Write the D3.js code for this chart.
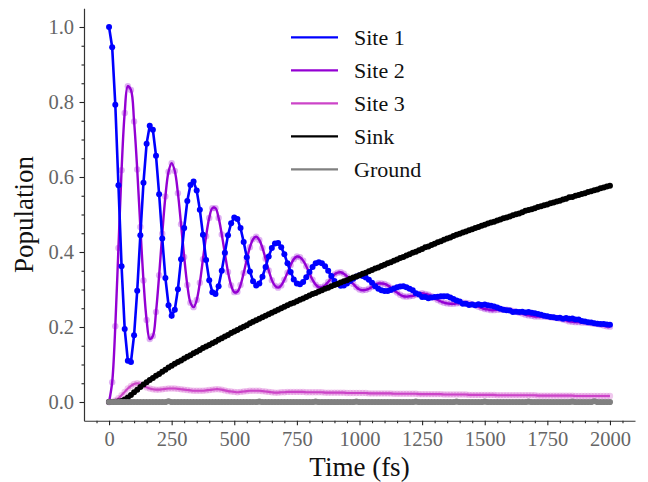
<!DOCTYPE html>
<html><head><meta charset="utf-8">
<script src="https://cdn.jsdelivr.net/npm/d3@7/dist/d3.min.js"></script>
<style>body{margin:0;background:#fff} svg{display:block}</style>
</head><body><svg id="chart" width="648" height="482"></svg>
<script>
const times = [
0,12.5,25,37.5,50,62.5,75,87.5,
100,112.5,125,137.5,150,162.5,175,187.5,
200,212.5,225,237.5,250,262.5,275,287.5,
300,312.5,325,337.5,350,362.5,375,387.5,
400,412.5,425,437.5,450,462.5,475,487.5,
500,512.5,525,537.5,550,562.5,575,587.5,
600,612.5,625,637.5,650,662.5,675,687.5,
700,712.5,725,737.5,750,762.5,775,787.5,
800,812.5,825,837.5,850,862.5,875,887.5,
900,912.5,925,937.5,950,962.5,975,987.5,
1000,1012.5,1025,1037.5,1050,1062.5,1075,1087.5,
1100,1112.5,1125,1137.5,1150,1162.5,1175,1187.5,
1200,1212.5,1225,1237.5,1250,1262.5,1275,1287.5,
1300,1312.5,1325,1337.5,1350,1362.5,1375,1387.5,
1400,1412.5,1425,1437.5,1450,1462.5,1475,1487.5,
1500,1512.5,1525,1537.5,1550,1562.5,1575,1587.5,
1600,1612.5,1625,1637.5,1650,1662.5,1675,1687.5,
1700,1712.5,1725,1737.5,1750,1762.5,1775,1787.5,
1800,1812.5,1825,1837.5,1850,1862.5,1875,1887.5,
1900,1912.5,1925,1937.5,1950,1962.5,1975,1987.5,
2000];

const site1 = [
1.000,.946,.793,.578,.362,.195,.110,.107,
.178,.297,.445,.585,.689,.737,.726,.657,
.554,.436,.331,.258,.230,.246,.301,.381,
.464,.536,.579,.588,.564,.513,.446,.379,
.325,.293,.288,.309,.350,.398,.445,.477,
.492,.488,.464,.427,.386,.348,.322,.311,
.316,.334,.360,.388,.411,.423,.424,.413,
.394,.370,.347,.327,.316,.314,.320,.333,
.347,.360,.370,.373,.370,.362,.350,.336,
.323,.315,.310,.311,.316,.323,.329,.335,
.338,.336,.332,.326,.318,.309,.302,.298,
.296,.296,.299,.303,.306,.308,.309,.306,
.302,.298,.290,.287,.280,.280,.277,.279,
.280,.281,.282,.282,.282,.279,.275,.271,
.268,.262,.262,.259,.260,.258,.261,.259,
.260,.258,.257,.255,.252,.249,.246,.245,
.244,.240,.241,.240,.241,.239,.240,.238,
.237,.235,.233,.230,.229,.227,.226,.224,
.225,.222,.224,.222,.223,.220,.220,.216,
.215,.213,.212,.210,.209,.208,.208,.207,
.206];

const site2 = [
.000,.053,.202,.411,.618,.771,.842,.832,
.748,.620,.467,.324,.219,.168,.176,.240,
.338,.449,.548,.614,.637,.616,.557,.474,
.387,.312,.265,.253,.272,.318,.381,.442,
.491,.517,.517,.491,.447,.396,.347,.311,
.293,.294,.312,.344,.380,.413,.434,.441,
.432,.411,.382,.351,.325,.310,.305,.311,
.326,.345,.365,.381,.388,.386,.377,.362,
.343,.326,.313,.306,.306,.311,.320,.330,
.340,.345,.346,.342,.335,.325,.315,.306,
.300,.298,.299,.302,.307,.312,.316,.316,
.315,.311,.305,.298,.292,.286,.282,.281,
.282,.283,.286,.288,.290,.288,.286,.282,
.277,.272,.268,.265,.263,.262,.262,.263,
.264,.265,.264,.263,.261,.258,.254,.251,
.248,.247,.245,.245,.246,.246,.246,.246,
.245,.243,.241,.238,.236,.233,.231,.230,
.228,.228,.228,.228,.227,.226,.225,.224,
.222,.220,.218,.215,.214,.213,.213,.212,
.212,.211,.210,.209,.208,.206,.204,.202,
.201];

const site3 = [
0,.001,.004,.010,.018,.027,.036,.043,
.048,.050,.048,.044,.039,.036,.034,.033,
.033,.034,.035,.036,.036,.036,.035,.034,
.033,.032,.031,.030,.030,.030,.030,.031,
.032,.033,.034,.034,.033,.031,.029,.028,
.027,.026,.027,.028,.029,.030,.030,.030,
.030,.029,.028,.027,.026,.025,.025,.026,
.026,.027,.027,.027,.027,.027,.027,.026,
.026,.026,.026,.026,.026,.025,.025,.025,
.025,.025,.025,.025,.024,.024,.024,.024,
.024,.024,.024,.023,.023,.023,.023,.023,
.023,.023,.023,.022,.022,.022,.022,.022,
.022,.022,.022,.021,.021,.021,.021,.021,
.021,.021,.021,.020,.020,.020,.020,.020,
.020,.020,.020,.019,.019,.019,.019,.019,
.019,.019,.019,.019,.018,.018,.018,.018,
.018,.018,.018,.018,.018,.018,.018,.018,
.018,.017,.017,.017,.017,.017,.017,.017,
.017,.017,.017,.017,.017,.016,.016,.016,
.016,.016,.016,.016,.016,.016,.016,.016,
.016];

const sink = [
0,0,.0005,.0015,.003,.007,.012,.019,
.026,.033,.040,.047,.053,.059,.064,.070,
.075,.081,.086,.092,.097,.102,.107,.111,
.116,.121,.125,.130,.134,.139,.144,.148,
.152,.157,.161,.166,.170,.175,.179,.184,
.188,.192,.197,.201,.205,.210,.214,.218,
.222,.226,.230,.234,.238,.242,.246,.250,
.254,.258,.262,.265,.269,.273,.276,.280,
.284,.288,.291,.295,.298,.302,.305,.309,
.312,.315,.319,.322,.325,.329,.332,.335,
.338,.342,.345,.349,.352,.356,.359,.363,
.366,.370,.373,.377,.380,.384,.387,.391,
.394,.398,.401,.405,.408,.413,.415,.419,
.422,.426,.429,.433,.436,.439,.443,.446,
.449,.452,.455,.458,.461,.464,.467,.470,
.473,.476,.479,.481,.484,.487,.490,.492,
.495,.498,.501,.503,.506,.510,.512,.514,
.517,.520,.522,.525,.527,.530,.532,.535,
.537,.540,.542,.546,.547,.550,.552,.555,
.557,.560,.562,.565,.567,.570,.572,.575,
.577];

const ground = [
0,0,0,0,0,0,0,0,
0,0,0,0,0,0,0,0,
0,0,0,.002,0,0,0,0,
0,0,0,0,0,0,0,0,
0,0,0,0,0,0,0,0,
0,0,0,0,0,0,0,0,
.001,0,0,0,0,0,0,0,
0,0,0,0,0,0,0,0,
0,0,.001,0,0,0,0,0,
0,0,0,0,0,0,0,.001,
0,0,0,0,0,0,0,0,
0,0,0,0,0,0,0,0,
0,0,.001,0,0,0,0,0,
0,0,0,0,0,0,0,.001,
0,0,0,0,0,0,0,0,
.001,0,0,0,0,0,0,0,
0,0,0,0,0,0,.001,0,
0,0,0,0,0,0,0,0,
0,0,0,0,.001,0,0,0,
0,0,0,.002,0,0,0,0,
0];

const xMajorTicks = [0,250,500,750,1000,1250,1500,1750,2000];
const yMajorTicks = [0.0,0.2,0.4,0.6,0.8,1.0];
const legendLabels = ["Site 1","Site 2","Site 3","Sink","Ground"];
const legendColors = ["#0000ff","#9400d3","#cc44c8","#000000","#808080"];

const FONT = "'Liberation Serif','DejaVu Serif',serif";
const svg = d3.select("#chart");
const x = d3.scaleLinear().domain([-100, 2100]).range([84, 635]);
const y = d3.scaleLinear().domain([-0.05, 1.05]).range([420.75, 8.25]);

// minor ticks
const xMinor = d3.range(-50, 2051, 50).filter(v => v % 250 !== 0);
const yMinor = d3.range(1, 21, 1).map(v => v * 0.05).filter(v => Math.round(v*100) % 20 !== 0);

const gx = svg.append("g").attr("transform", "translate(0,420.75)");
gx.call(d3.axisBottom(x).tickValues(xMinor).tickSize(2.5).tickSizeOuter(0).tickFormat(""));
gx.select(".domain").remove();
const gx2 = svg.append("g").attr("transform", "translate(0,420.75)");
gx2.call(d3.axisBottom(x).tickValues(xMajorTicks).tickSize(4.5).tickSizeOuter(0).tickPadding(6.5).tickFormat(d3.format("d")));

const gy = svg.append("g").attr("transform", "translate(84,0)");
gy.call(d3.axisLeft(y).tickValues(yMinor).tickSize(2.5).tickSizeOuter(0).tickFormat(""));
gy.select(".domain").remove();
const gy2 = svg.append("g").attr("transform", "translate(84,0)");
gy2.call(d3.axisLeft(y).tickValues(yMajorTicks).tickSize(4.5).tickSizeOuter(0).tickPadding(5.5).tickFormat(d3.format(".1f")));

svg.selectAll(".tick line").attr("stroke", "#222").attr("stroke-width", 1.1);
svg.selectAll(".domain").attr("stroke", "#333").attr("stroke-width", 1.2);
svg.selectAll(".tick text").attr("font-family", FONT).attr("font-size", 20.5).attr("fill", "#666");

// axis titles
svg.append("text").attr("x", 359.5).attr("y", 476).attr("text-anchor", "middle")
  .attr("font-family", FONT).attr("font-size", 27).attr("fill", "#111").text("Time (fs)");
svg.append("text").attr("transform", "translate(33,214.5) rotate(-90)").attr("text-anchor", "middle")
  .attr("font-family", FONT).attr("font-size", 27).attr("fill", "#111").text("Population");

const plot = svg.append("g");
function pts(arr) { return arr.map((v, i) => [times[i], v]); }
const lineLinear = d3.line().x(d => x(d[0])).y(d => y(d[1]));
const lineSmooth = d3.line().x(d => x(d[0])).y(d => y(d[1])).curve(d3.curveCatmullRom.alpha(0.5));

function dots(arr, color, r, op) {
  plot.append("g").selectAll("circle").data(pts(arr)).join("circle")
    .attr("cx", d => x(d[0])).attr("cy", d => y(d[1])).attr("r", r)
    .attr("fill", color).attr("fill-opacity", op);
}
// Site 3
dots(site3, legendColors[2], 3.2, 0.3);
plot.append("path").attr("d", lineSmooth(pts(site3))).attr("fill", "none")
  .attr("stroke", legendColors[2]).attr("stroke-width", 2.2);
// Site 2
dots(site2, legendColors[1], 3.2, 0.3);
plot.append("path").attr("d", lineSmooth(pts(site2))).attr("fill", "none")
  .attr("stroke", legendColors[1]).attr("stroke-width", 2.4);
// Site 1
plot.append("path").attr("d", lineLinear(pts(site1))).attr("fill", "none")
  .attr("stroke", legendColors[0]).attr("stroke-width", 2.6);
dots(site1, legendColors[0], 3, 1);
// Sink
plot.append("path").attr("d", lineLinear(pts(sink))).attr("fill", "none")
  .attr("stroke", legendColors[3]).attr("stroke-width", 2.5);
dots(sink, legendColors[3], 3, 1);
// Ground
dots(ground, legendColors[4], 3.1, 1);

// legend
const lg = svg.append("g");
legendLabels.forEach((lab, i) => {
  const yy = 37.3 + i * 33;
  lg.append("line").attr("x1", 291).attr("x2", 338).attr("y1", yy).attr("y2", yy)
    .attr("stroke", legendColors[i]).attr("stroke-width", 2.2);
  lg.append("text").attr("x", 354).attr("y", yy + 8).attr("font-family", FONT)
    .attr("font-size", 22).attr("fill", "#111").text(lab);
});
</script></body></html>
